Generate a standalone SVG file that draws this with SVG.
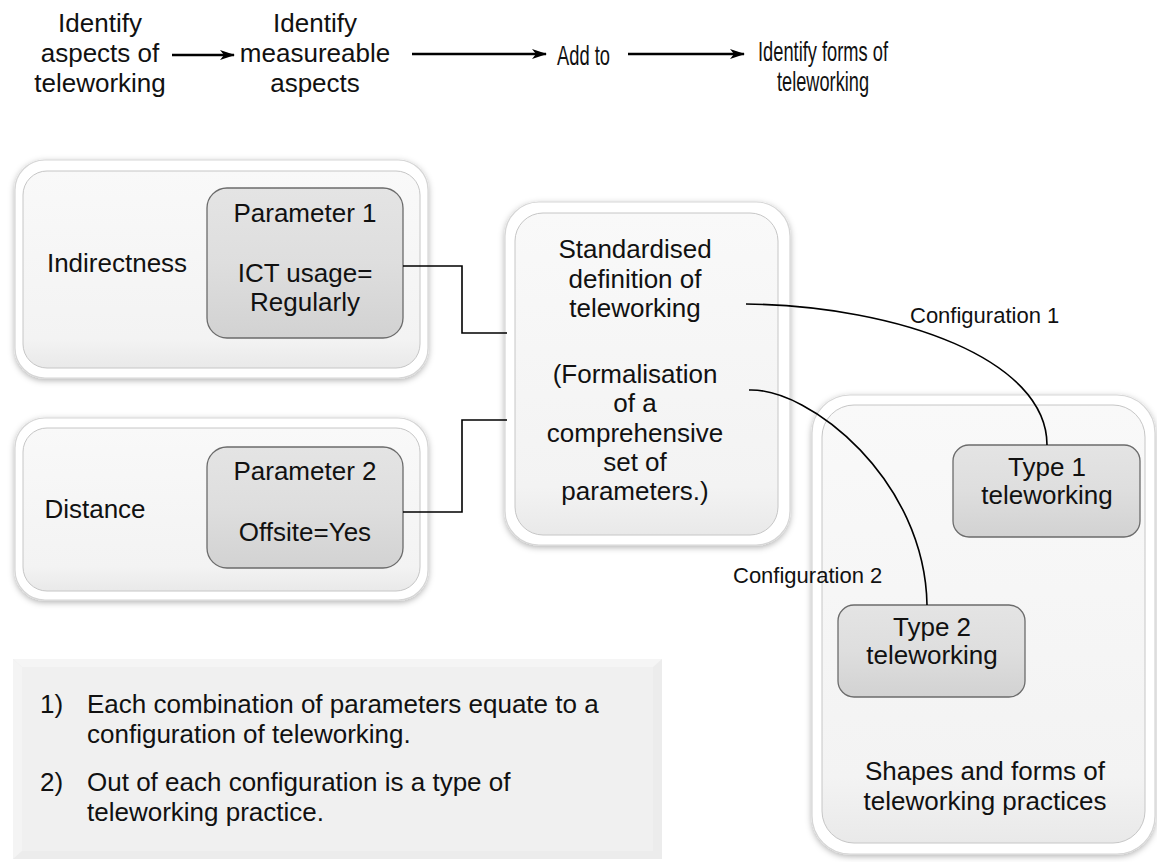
<svg xmlns="http://www.w3.org/2000/svg" width="1157" height="862" viewBox="0 0 1157 862">
<defs>
<style>
text{font-family:"Liberation Sans",Arial,sans-serif;fill:#111;}
.t{font-size:26px;}
.n{font-size:28px;}
.c{font-size:26px;text-anchor:middle;}
.cfg{font-size:22px;}
.frame{fill:#ffffff;stroke:#d6d6d6;stroke-width:1.2;filter:url(#sh);}
.panel{fill:url(#pg);stroke:#c6c6c6;stroke-width:1;}
.param{fill:url(#gg);stroke:#6b6b6b;stroke-width:1.3;}
.conn{fill:none;stroke:#000;stroke-width:1.6;}
.arr{fill:none;stroke:#000;stroke-width:2.6;marker-end:url(#ah);}
</style>
<filter id="sh" x="-10%" y="-10%" width="120%" height="120%">
<feDropShadow dx="0" dy="2" stdDeviation="3" flood-color="#000" flood-opacity="0.3"/>
</filter>
<linearGradient id="pg" x1="0" y1="0" x2="0" y2="1">
<stop offset="0" stop-color="#f9f9f9"/>
<stop offset="0.85" stop-color="#f3f3f3"/>
<stop offset="1" stop-color="#e9e9e9"/>
</linearGradient>
<linearGradient id="gg" x1="0" y1="0" x2="0" y2="1">
<stop offset="0" stop-color="#e4e4e4"/>
<stop offset="0.5" stop-color="#dedede"/>
<stop offset="1" stop-color="#d2d2d2"/>
</linearGradient>
<marker id="ah" markerWidth="16" markerHeight="10" refX="14" refY="5" orient="auto" markerUnits="userSpaceOnUse">
<path d="M0,0 L15,5 L0,10 L4,5 z" fill="#000"/>
</marker>
</defs>
<rect width="1157" height="862" fill="#fff"/>

<g id="step1"><text class="c" x="100" y="32">Identify</text><text class="c" x="100" y="62">aspects of</text><text class="c" x="100" y="92">teleworking</text></g>
<g id="step2"><text class="c" x="315" y="32">Identify</text><text class="c" x="315" y="62">measureable</text><text class="c" x="315" y="92">aspects</text></g>
<g id="step3"><text class="n" x="557" y="65" textLength="53" lengthAdjust="spacingAndGlyphs">Add to</text></g>
<g id="step4"><text class="n" x="758" y="61" textLength="130" lengthAdjust="spacingAndGlyphs">Identify forms of</text><text class="n" x="777" y="91" textLength="92" lengthAdjust="spacingAndGlyphs">teleworking</text></g>

<g id="indirectness">
<rect class="frame" x="15" y="160" width="413" height="218" rx="30"/>
<rect class="panel" x="23" y="171" width="397" height="197" rx="24"/>
<text class="c" x="117" y="272">Indirectness</text>
<g id="param1">
<rect class="param" x="207" y="188" width="196" height="150" rx="20"/>
<text class="c" x="305" y="222">Parameter 1</text>
<text class="c" x="305" y="282">ICT usage=</text>
<text class="c" x="305" y="311">Regularly</text>
</g>
</g>

<g id="distance">
<rect class="frame" x="15" y="418" width="413" height="182" rx="30"/>
<rect class="panel" x="23" y="428" width="397" height="163" rx="24"/>
<text class="c" x="95" y="518">Distance</text>
<g id="param2">
<rect class="param" x="207" y="447" width="196" height="121" rx="20"/>
<text class="c" x="305" y="480">Parameter 2</text>
<text class="c" x="305" y="541">Offsite=Yes</text>
</g>
</g>

<g id="definition">
<rect class="frame" x="505" y="202" width="285" height="343" rx="34"/>
<rect class="panel" x="515" y="213" width="263" height="322" rx="28"/>
<text class="c" x="635" y="258">Standardised</text>
<text class="c" x="635" y="288">definition of</text>
<text class="c" x="635" y="317">teleworking</text>
<text class="c" x="635" y="383">(Formalisation</text>
<text class="c" x="635" y="412">of a</text>
<text class="c" x="635" y="442">comprehensive</text>
<text class="c" x="635" y="471">set of</text>
<text class="c" x="635" y="500">parameters.)</text>
</g>

<g id="practices">
<rect class="frame" x="812" y="395" width="343" height="459" rx="38"/>
<rect class="panel" x="822" y="405" width="323" height="438" rx="32"/>
<text class="c" x="985" y="780">Shapes and forms of</text>
<text class="c" x="985" y="810">teleworking practices</text>
<g id="type1">
<rect class="param" x="953" y="445" width="187" height="92" rx="16"/>
<text class="c" x="1047" y="476">Type 1</text>
<text class="c" x="1047" y="504">teleworking</text>
</g>
<g id="type2">
<rect class="param" x="838" y="605" width="187" height="92" rx="16"/>
<text class="c" x="932" y="636">Type 2</text>
<text class="c" x="932" y="664">teleworking</text>
</g>
</g>

<g id="notes">
<rect x="13" y="659" width="649" height="200" fill="#ececec"/>
<rect x="22" y="667" width="631" height="184" fill="#f0f0f0"/>
<path d="M13,659 L662,659 L653,667 L22,667 Z" fill="#f5f5f5"/>
<path d="M13,659 L22,667 L22,851 L13,859 Z" fill="#f4f4f4"/>
<text class="t" x="40" y="713">1)</text>
<text class="t" x="87" y="713">Each combination of parameters equate to a</text>
<text class="t" x="87" y="743">configuration of teleworking.</text>
<text class="t" x="40" y="791">2)</text>
<text class="t" x="87" y="791">Out of each configuration is a type of</text>
<text class="t" x="87" y="821">teleworking practice.</text>
</g>

<g id="connectors">
<line class="arr" x1="172" y1="55" x2="234" y2="55"/>
<line class="arr" x1="412" y1="54" x2="546" y2="54"/>
<line class="arr" x1="628" y1="54" x2="744" y2="54"/>
<path class="conn" d="M403,266 H462 V333 H507"/>
<path class="conn" d="M403,512 H462 V420 H507"/>
<path class="conn" d="M746,304 C900,306 1047,360 1047,445"/>
<path class="conn" d="M749,390 C810,388 925,480 927,605"/>
<text class="cfg" x="910" y="323">Configuration 1</text>
<text class="cfg" x="733" y="583">Configuration 2</text>
</g>
</svg>
